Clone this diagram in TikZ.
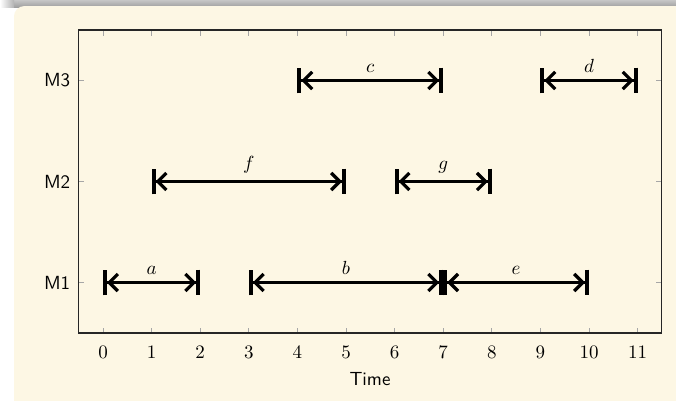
\documentclass[tikz,border=0pt]{standalone}
\usetikzlibrary{arrows.meta}
\definecolor{blockbg}{RGB}{253,247,228}
\begin{document}
\begin{tikzpicture}[x=0.5263pt,y=-0.5263pt,
  interval/.style={line width=1.7pt,
    {Bar[width=13.5pt,line width=2.1pt,sep=0pt]Straight Barb[length=4.5pt,width=9pt,sep=0pt]}-{Straight Barb[length=4.5pt,width=9pt,sep=0pt]Bar[width=13.5pt,line width=2.1pt,sep=0pt]}},
  tickmark/.style={gray!70, line width=0.5pt},
  axisframe/.style={line width=0.6pt, black!85},
  ticklab/.style={inner sep=0pt},
  catlab/.style={inner sep=0pt, anchor=east, font=\sffamily},
  seglab/.style={midway, above}]
\useasboundingbox (0,0) rectangle (676,400);
\fill[white] (0,0) rectangle (676,400);
\shade[top color=gray!45, bottom color=gray!75] (12,0) rectangle (676,7);
\shade[left color=white, right color=gray!60] (0,0) rectangle (14,7);
\fill[blockbg, rounded corners=5.5pt] (14,6) rectangle (690,420);

\begin{scope}[shift={(103,383.5)}, xscale=48.6, yscale=-101]
  \coordinate (a0) at (0,1);  \coordinate (a1) at (2,1);
  \coordinate (b0) at (3,1);  \coordinate (b1) at (7,1);
  \coordinate (e0) at (7,1);  \coordinate (e1) at (10,1);
  \coordinate (f0) at (1,2);  \coordinate (f1) at (5,2);
  \coordinate (g0) at (6,2);  \coordinate (g1) at (8,2);
  \coordinate (c0) at (4,3);  \coordinate (c1) at (7,3);
  \coordinate (d0) at (9,3);  \coordinate (d1) at (11,3);
  \coordinate (ll) at (-0.5,0.5); \coordinate (ur) at (11.5,3.5);
  \foreach \t in {0,...,11} {
    \coordinate (xb\t) at (\t,0.5);
    \coordinate (xt\t) at (\t,3.5);
  }
  \foreach \k in {1,2,3} {
    \coordinate (yl\k) at (-0.5,\k);
    \coordinate (yr\k) at (11.5,\k);
  }
\end{scope}

\foreach \t in {0,...,11} {
  \draw[tickmark] (xb\t) -- ++(0,-5.5);
  \draw[tickmark] (xt\t) -- ++(0,5.5);
  \node[ticklab] (n\t) at ({103+48.6*\t},352) {$\t$};
}
\foreach \k in {1,2,3} {
  \draw[tickmark] (yl\k) -- ++(5.5,0);
  \draw[tickmark] (yr\k) -- ++(-5.5,0);
  \node[catlab] (m\k) at ([xshift=-4.3pt]yl\k) {M\k};
}
\draw[axisframe] (ll) rectangle (ur);
\node[font=\sffamily] (tl) at (370,379.5) {Time};

\draw[interval] (a0) -- node[seglab] (la) {$a$} (a1);
\draw[interval] (b0) -- node[seglab] (lb) {$b$} (b1);
\draw[interval] (e0) -- node[seglab] (le) {$e$} (e1);
\draw[interval] (f0) -- node[seglab] (lf) {$f$} (f1);
\draw[interval] (g0) -- node[seglab] (lg) {$g$} (g1);
\draw[interval] (c0) -- node[seglab] (lc) {$c$} (c1);
\draw[interval] (d0) -- node[seglab] (ld) {$d$} (d1);
\end{tikzpicture}
\end{document}
